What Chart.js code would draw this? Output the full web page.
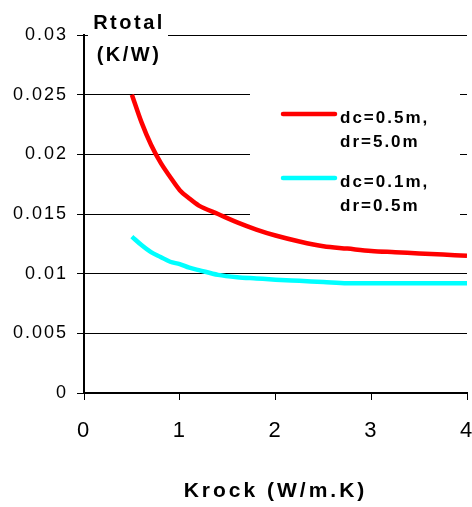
<!DOCTYPE html>
<html>
<head>
<meta charset="utf-8">
<script src="https://cdn.jsdelivr.net/npm/chart.js@4.4.0/dist/chart.umd.min.js"></script>
<style>
  html, body { margin: 0; padding: 0; background: #fff; }
  canvas { display: block; }
</style>
</head>
<body>
<canvas id="rChart" width="472" height="507"></canvas>
<script>
// Krock (W/m.K)
const krock = [0.5, 0.6, 0.7, 0.8, 0.9, 1.0, 1.1, 1.2, 1.4, 1.6, 1.8, 2.0, 2.25, 2.5, 2.75, 3.0, 3.25, 3.5, 3.75, 4.0];
// Rtotal (K/W) pour chaque configuration
const rGrand = [0.0250, 0.0227, 0.0208, 0.0193, 0.0181, 0.0170, 0.0163, 0.0157, 0.0150, 0.0143, 0.0137, 0.0132, 0.0127, 0.0123, 0.0121, 0.0119, 0.0118, 0.0117, 0.0116, 0.0115];
const rPetit = [0.0131, 0.0124, 0.0118, 0.0114, 0.0110, 0.0108, 0.0105, 0.0103, 0.0099, 0.0097, 0.0096, 0.0095, 0.0094, 0.0093, 0.0092, 0.0092, 0.0092, 0.0092, 0.0092, 0.0092];
const yTicks = [0, 0.005, 0.01, 0.015, 0.02, 0.025, 0.03];
const xTicks = [0, 1, 2, 3, 4];
const noms = [['dc=0.5m,', 'dr=5.0m'], ['dc=0.1m,', 'dr=0.5m']];

const fam = '"Liberation Sans", Arial, sans-serif';

// legende + titre Y dessines a la main, par dessus la grille
const habillage = {
    id: 'habillage',
    beforeDraw(chart) {
        chart.ctx.letterSpacing = '2px';
    },
    afterUpdate(chart) {
        const xs = chart.scales.x;
        if (!xs._espace) {
            const orig = xs.drawTitle;
            xs.drawTitle = function (area) {
                this.ctx.letterSpacing = '3px';
                orig.call(this, area);
                this.ctx.letterSpacing = '2px';
            };
            xs._espace = true;
        }
    },
    afterDatasetsDraw(chart) {
        const ctx = chart.ctx;
        ctx.save();
        ctx.fillStyle = '#fff';
        ctx.fillRect(250, 50, 210, 172);
        ctx.fillRect(88, 3, 80, 68);

        ctx.fillStyle = '#000';
        ctx.letterSpacing = '2.5px';
        ctx.font = 'bold 20px ' + fam;
        ctx.textAlign = 'center';
        ctx.textBaseline = 'alphabetic';
        ctx.fillText('Rtotal', 129, 29);
        ctx.fillText('(K/W)', 129, 61);

        ctx.letterSpacing = '2px';
        ctx.font = 'bold 17px ' + fam;
        ctx.textAlign = 'left';
        chart.data.datasets.forEach((ds, i) => {
            const y = 114 + i * 64;
            ctx.strokeStyle = ds.borderColor;
            ctx.lineWidth = 4.5;
            ctx.lineCap = 'round';
            ctx.beginPath();
            ctx.moveTo(283, y);
            ctx.lineTo(335, y);
            ctx.stroke();
            ctx.fillStyle = '#000';
            ctx.fillText(noms[i][0], 340, y + 9);
            ctx.fillText(noms[i][1], 340, y + 33);
        });
        ctx.restore();
    },
    afterDraw(chart) {
        chart.ctx.letterSpacing = '0px';
    }
};

const ctx = document.getElementById('rChart');

new Chart(ctx, {
    type: 'line',
    data: {
        datasets: [{
            label: noms[0].join(' '),
            data: krock.map((k, i) => ({ x: k, y: rGrand[i] })),
            borderColor: '#ff0000',
            borderWidth: 4.5,
            pointRadius: 0,
            cubicInterpolationMode: 'monotone'
        },
        {
            label: noms[1].join(' '),
            data: krock.map((k, i) => ({ x: k, y: rPetit[i] })),
            borderColor: '#00ffff',
            borderWidth: 4.5,
            pointRadius: 0,
            cubicInterpolationMode: 'monotone'
        }]
    },
    options: {
        responsive: false,
        animation: false,
        events: [],
        layout: { padding: { top: 35, right: 5, left: 0, bottom: 0 } },
        plugins: {
            legend: { display: false },
            tooltip: { enabled: false }
        },
        scales: {
            x: {
                type: 'linear',
                min: 0,
                max: 4,
                afterBuildTicks: s => { s.ticks = xTicks.map(v => ({ value: v })); },
                afterFit: s => { s.height = 114; s.paddingLeft = 0; s.paddingRight = 0; },
                ticks: {
                    color: '#000',
                    font: { family: fam, size: 22 },
                    padding: 18,
                    callback: v => String(v)
                },
                grid: { drawOnChartArea: false, color: '#000', tickLength: 7 },
                border: { color: '#000', width: 2 },
                title: {
                    display: true,
                    text: 'Krock (W/m.K)',
                    color: '#000',
                    font: { family: fam, size: 21, weight: 'bold' },
                    padding: { top: 0, bottom: 3 }
                }
            },
            y: {
                min: 0,
                max: 0.03,
                afterBuildTicks: s => { s.ticks = yTicks.map(v => ({ value: v })); },
                afterFit: s => { s.width = 84; s.paddingTop = 0; s.paddingBottom = 0; },
                ticks: {
                    color: '#000',
                    font: { family: fam, size: 18 },
                    padding: 9,
                    callback: v => String(v)
                },
                grid: { color: '#000', lineWidth: 1, tickLength: 7 },
                border: { color: '#000', width: 2 }
            }
        }
    },
    plugins: [habillage]
});
</script>
</body>
</html>
